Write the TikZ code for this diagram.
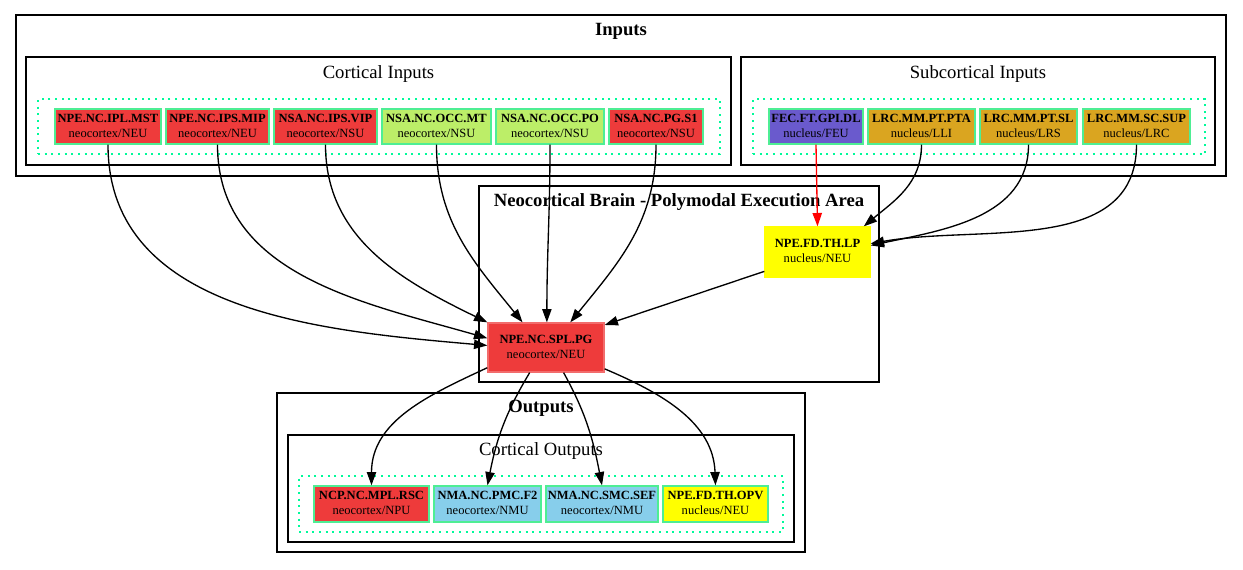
\documentclass[tikz,border=0pt]{standalone}
\usepackage{fontspec}
\setmainfont{Liberation Serif}
\usetikzlibrary{
  arrows.meta,
  positioning,
  fit
}
\definecolor{brRed}{HTML}{EE3B3B}
\definecolor{brGreen}{HTML}{BCEE68}
\definecolor{brPurple}{HTML}{6A5ACD}
\definecolor{brGold}{HTML}{DAA520}
\definecolor{brSky}{HTML}{87CEEB}
\definecolor{brYellow}{HTML}{FFFF00}
\definecolor{brEdge}{HTML}{4EEE94}
\definecolor{brDot}{HTML}{00FA9A}
\newcommand{\unitlbl}[2]{\begin{tabular}{@{}c@{}}\textbf{#1}\\#2\end{tabular}}
\tikzset{
  brnode/.style={
    draw=brEdge, line width=1pt, inner sep=0pt,
    font=\fontsize{9.4}{11.25}\selectfont
  },
  box/.style 2 args={minimum width=#1*0.75pt, minimum height=#2*0.75pt},
  cortex/.style={brnode, fill=brRed},
  occip/.style={brnode, fill=brGreen},
  feu/.style={brnode, fill=brPurple},
  lrc/.style={brnode, fill=brGold},
  nmu/.style={brnode, fill=brSky},
  neu/.style={brnode, fill=brYellow},
  cluster/.style={draw=black, line width=0.9pt, inner sep=0pt},
  group/.style={draw=brDot, line width=1pt, dash pattern=on 1.5pt off 3.5pt, inner sep=0pt},
  title/.style={font=\fontsize{14}{16}\selectfont\bfseries, inner sep=0pt, anchor=base},
  subtitle/.style={font=\fontsize{14}{16}\selectfont, inner sep=0pt, anchor=base},
  link/.style={-{Triangle[length=10pt,width=7pt]}, line width=1pt, black},
  keylink/.style={link, red}
}

\begin{document}
\begin{tikzpicture}[x=0.75pt, y=0.75pt]
  \useasboundingbox (0,0) rectangle (1243,-569);
  % clusters
  \node[cluster, fit={(16,-15) (1226,-176)}] (inputs) {};
  \node[title] (inputsT) at (621,-35) {Inputs};
  \node[cluster, fit={(26,-57) (731,-165)}] (cortin) {};
  \node[subtitle] (cortinT) at (378.5,-78) {Cortical Inputs};
  \node[group, fit={(38,-99) (720,-154)}] (cortinG) {};
  \node[cluster, fit={(741,-57) (1215,-165)}] (subin) {};
  \node[subtitle] (subinT) at (978,-78) {Subcortical Inputs};
  \node[group, fit={(753,-99) (1205,-154)}] (subinG) {};
  \node[cluster, fit={(479,-186) (879,-382)}] (brain) {};
  \node[title] (brainT) at (679,-206) {Neocortical Brain - Polymodal Execution Area};
  \node[cluster, fit={(277,-393) (805,-552)}] (outputs) {};
  \node[title] (outputsT) at (541,-412) {Outputs};
  \node[cluster, fit={(288,-435) (794,-542)}] (cortout) {};
  \node[subtitle] (cortoutT) at (541,-455) {Cortical Outputs};
  \node[group, fit={(299,-476) (783,-532)}] (cortoutG) {};

  % cortical inputs
  \node[cortex, box={106}{35}] (mst) at (108,-126.5) {\unitlbl{NPE.NC.IPL.MST}{neocortex/NEU}};
  \node[cortex, box={103}{35}] (mip) at (217.5,-126.5) {\unitlbl{NPE.NC.IPS.MIP}{neocortex/NEU}};
  \node[cortex, box={103}{35}] (vip) at (325.5,-126.5) {\unitlbl{NSA.NC.IPS.VIP}{neocortex/NSU}};
  \node[occip, box={109}{35}] (mt) at (436.5,-126.5) {\unitlbl{NSA.NC.OCC.MT}{neocortex/NSU}};
  \node[occip, box={108}{35}] (po) at (550,-126.5) {\unitlbl{NSA.NC.OCC.PO}{neocortex/NSU}};
  \node[cortex, box={94}{35}] (sone) at (656,-126.5) {\unitlbl{NSA.NC.PG.S1}{neocortex/NSU}};

  % subcortical inputs
  \node[feu, box={94}{35}] (gpi) at (816,-126.5) {\unitlbl{FEC.FT.GPI.DL}{nucleus/FEU}};
  \node[lrc, box={107}{35}] (pta) at (921.5,-126.5) {\unitlbl{LRC.MM.PT.PTA}{nucleus/LLI}};
  \node[lrc, box={97}{35}] (sl) at (1028.5,-126.5) {\unitlbl{LRC.MM.PT.SL}{nucleus/LRS}};
  \node[lrc, box={107}{35}] (sup) at (1136.5,-126.5) {\unitlbl{LRC.MM.SC.SUP}{nucleus/LRC}};

  % brain area
  \node[neu, draw=brYellow, box={105}{50}] (lp) at (817.5,-252) {\unitlbl{NPE.FD.TH.LP}{nucleus/NEU}};
  \node[cortex, draw=brRed!75!white, box={116}{49}] (spl) at (546,-347.5) {\unitlbl{NPE.NC.SPL.PG}{neocortex/NEU}};

  % cortical outputs
  \node[cortex, box={115}{36}] (rsc) at (371.5,-504) {\unitlbl{NCP.NC.MPL.RSC}{neocortex/NPU}};
  \node[nmu, box={107}{36}] (ftwo) at (487.5,-504) {\unitlbl{NMA.NC.PMC.F2}{neocortex/NMU}};
  \node[nmu, box={112}{36}] (sef) at (602,-504) {\unitlbl{NMA.NC.SMC.SEF}{neocortex/NMU}};
  \node[neu, box={105}{36}] (opv) at (715.5,-504) {\unitlbl{NPE.FD.TH.OPV}{nucleus/NEU}};

  % links
  \draw[link] (mst.south) to[out=-90, in=175] (spl.178);
  \draw[link] (mip.south) to[out=-90, in=164] (spl.171);
  \draw[link] (vip.south) to[out=-90, in=154] (spl.north west);
  \draw[link] (mt.south) to[out=-90, in=129] (spl.133);
  \draw[link] (po.south) to[out=-90, in=90] (spl.88);
  \draw[link] (sone.south) to[out=-90, in=51] (spl.46);
  \draw[link] (lp.200) -- (spl.21);
  \draw[keylink] (gpi.south) -- (lp.north);
  \draw[link] (pta.south) to[out=-90, in=40] (lp.29);
  \draw[link] (sl.south) to[out=-90, in=12] (lp.7);
  \draw[link] (sup.south) to[out=-90, in=10] (lp.9);
  \draw[link] (spl.199) to[out=205, in=90] (rsc.north);
  \draw[link] (spl.237) to[out=239, in=79] (ftwo.north);
  \draw[link] (spl.305) to[out=-61, in=101] (sef.north);
  \draw[link] (spl.340) to[out=-23, in=92] (opv.north);
\end{tikzpicture}
\end{document}
